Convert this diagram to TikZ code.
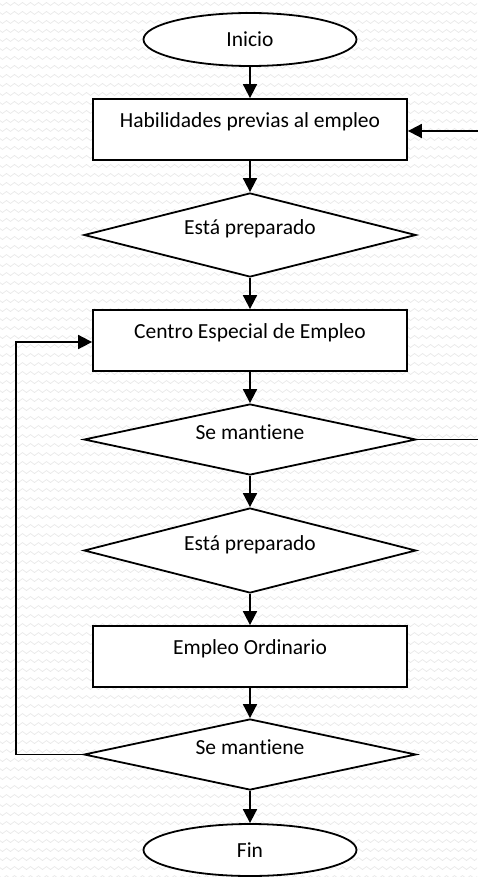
\documentclass[tikz,border=0pt]{standalone}
\usepackage{fontspec}
\setmainfont[Ligatures={NoCommon}]{Carlito}
\usetikzlibrary{shapes.geometric,arrows.meta,decorations.pathmorphing}
\begin{document}
\begin{tikzpicture}[x=1pt,y=-1pt,
  font=\fontsize{21.5}{25}\selectfont,
  line width=1.8pt,
  bgwave/.style={draw=black!9, line width=0.7pt, decorate,
    decoration={snake, amplitude=1.5pt, segment length=8pt}},
  procbox/.style={draw, fill=white, rectangle, minimum width=314pt,
    minimum height=61pt, inner sep=0pt, text height=14pt, text depth=18pt},
  decision/.style={draw, fill=white, diamond, aspect=4, minimum width=332pt,
    minimum height=#1, inner sep=0pt, text height=8pt, text depth=8pt},
  terminal/.style={draw, fill=white, ellipse, minimum width=213pt,
    minimum height=53pt, inner sep=0pt},
  flow/.style={-{Triangle[length=14pt,width=14pt]}},
]
\useasboundingbox (0,0) rectangle (477,877);
\begin{scope}
\clip (0,0) rectangle (477,877);
\foreach \yy in {4,13,...,877} \draw[bgwave] (-4,\yy) -- (481,\yy);
\end{scope}

\node[terminal] (ini) at (250,39.5) {Inicio};
\node[procbox] (b1) at (250,129.5) {Habilidades previas al empleo};
\node[decision=84pt] (d1) at (250,235) {Está preparado};
\node[procbox] (b2) at (250,340.5) {Centro Especial de Empleo};
\node[decision=71pt] (d2) at (250,439.5) {Se mantiene};
\node[decision=85pt] (d3) at (250,550.5) {Está preparado};
\node[procbox] (b3) at (250,656.5) {Empleo Ordinario};
\node[decision=71pt] (d4) at (250,754.5) {Se mantiene};
\node[terminal, minimum height=52pt] (fin) at (250,850) {Fin};

\coordinate (rin) at (478,131);
\coordinate (lx) at (16,0);

\draw[flow] (ini) -- (b1);
\draw[flow] (b1) -- (d1);
\draw[flow] (d1) -- (b2);
\draw[flow] (b2) -- (d2);
\draw[flow] (d2) -- (d3);
\draw[flow] (d3) -- (b3);
\draw[flow] (b3) -- (d4);
\draw[flow] (d4) -- (fin);
\draw[flow] (rin) -- (rin -| b1.east);
\draw (d2.east) -- (d2.east -| rin);
\draw[flow] (d4.west) -- (d4.west -| lx) |- ([yshift=-1.5pt]b2.west);
\end{tikzpicture}
\end{document}
